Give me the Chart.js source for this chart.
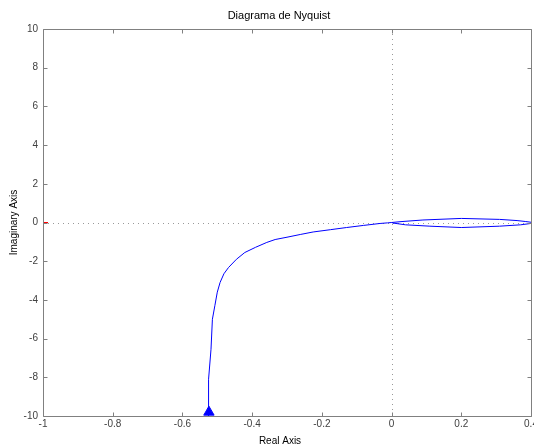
<!DOCTYPE html>
<html>
<head>
<meta charset="utf-8">
<script src="https://cdn.jsdelivr.net/npm/chart.js@4.4.1/dist/chart.umd.min.js"></script>
<style>
html, body { margin: 0; padding: 0; background: #fff; overflow: hidden; }
/* the reference figure is cropped on the right, so the canvas runs a bit past the window */
#wrap { width: 538px; height: 445px; position: relative; }
</style>
</head>
<body>
<div id="wrap"><canvas id="nyquist-chart"></canvas></div>
<script>
// Nyquist curve (real / imaginary parts)
var realPart = [-0.527, -0.526, -0.526, -0.524, -0.518, -0.514, -0.507, -0.500, -0.492, -0.481,
    -0.468, -0.445, -0.421, -0.390, -0.358, -0.334, -0.300, -0.262, -0.225, -0.175,
    -0.129, -0.080, -0.033, -0.012, 0.000,
    0.030, 0.090, 0.200, 0.310, 0.360, 0.385, 0.405,
    0.400, 0.370, 0.310, 0.200, 0.110, 0.040, 0.005, 0.000];
var imagPart = [-11.0, -10.0, -9.50, -8.10, -6.55, -5.00, -4.30, -3.60, -3.10, -2.65,
    -2.33, -1.90, -1.55, -1.28, -1.03, -0.88, -0.76, -0.62, -0.49, -0.37,
    -0.26, -0.15, -0.05, -0.02, 0.00,
    0.05, 0.13, 0.21, 0.16, 0.10, 0.05, 0.00,
    -0.05, -0.12, -0.19, -0.26, -0.19, -0.12, -0.03, 0.00];

var xTicks = [-1, -0.8, -0.6, -0.4, -0.2, 0, 0.2, 0.4];
var yTicks = [-10, -8, -6, -4, -2, 0, 2, 4, 6, 8, 10];

var arrowPoint = [{ x: -0.524, y: -9.8 }];
var criticalPoint = [{ x: -1, y: 0 }];

var chartTitle = 'Diagrama de Nyquist';
var xTitle = 'Real Axis';

var curve = [];
for (var i = 0; i < realPart.length; i++) {
    curve.push({ x: realPart[i], y: imagPart[i] });
}

var axisColor = '#808080';
var textColor = '#404040';

// MATLAB style box: dotted zero lines, frame, inward ticks, titles
var matlabBox = {
    id: 'matlabBox',
    beforeDatasetsDraw: function (chart) {
        var ctx = chart.ctx;
        var a = chart.chartArea;
        var x0 = Math.round(chart.scales.x.getPixelForValue(0)) + 0.5;
        var y0 = Math.round(chart.scales.y.getPixelForValue(0)) + 0.5;
        ctx.save();
        ctx.strokeStyle = '#999';
        ctx.lineWidth = 1;
        ctx.setLineDash([1, 4]);
        ctx.beginPath();
        ctx.moveTo(x0, a.top);
        ctx.lineTo(x0, a.bottom);
        ctx.moveTo(a.left, y0);
        ctx.lineTo(a.right, y0);
        ctx.stroke();
        ctx.restore();
    },
    afterDraw: function (chart) {
        var ctx = chart.ctx;
        var a = chart.chartArea;
        var xs = chart.scales.x, ys = chart.scales.y;
        var len = 4;
        ctx.save();
        ctx.strokeStyle = axisColor;
        ctx.lineWidth = 1;
        ctx.beginPath();
        var l = Math.round(a.left) + 0.5, r = Math.round(a.right) + 0.5;
        var t = Math.round(a.top) + 0.5, b = Math.round(a.bottom) + 0.5;
        ctx.rect(l, t, r - l, b - t);
        xTicks.forEach(function (v) {
            var px = Math.round(xs.getPixelForValue(v)) + 0.5;
            ctx.moveTo(px, b); ctx.lineTo(px, b - len);
            ctx.moveTo(px, t); ctx.lineTo(px, t + len);
        });
        yTicks.forEach(function (v) {
            var py = Math.round(ys.getPixelForValue(v)) + 0.5;
            ctx.moveTo(l, py); ctx.lineTo(l + len, py);
            ctx.moveTo(r, py); ctx.lineTo(r - len, py);
        });
        ctx.stroke();

        // titles (figure is cropped, so they sit left of the axes centre)
        ctx.fillStyle = '#000';
        ctx.textAlign = 'center';
        ctx.textBaseline = 'alphabetic';
        ctx.font = '11px "Liberation Sans"';
        ctx.fillText(chartTitle, 279, 19);
        ctx.font = '10px "Liberation Sans"';
        ctx.fillText(xTitle, 280, 444);
        ctx.restore();
    }
};

var context = document.getElementById('nyquist-chart').getContext('2d');
var nyquistChart = new Chart(context, {
    type: 'scatter',
    data: {
        datasets: [{
            data: curve,
            showLine: true,
            borderColor: '#0000ff',
            borderWidth: 1,
            pointRadius: 0,
            fill: false,
            tension: 0
        },
        {
            data: arrowPoint,
            pointStyle: 'triangle',
            pointRadius: 6,
            backgroundColor: '#0000ff',
            borderColor: '#0000ff',
            borderWidth: 1,
            clip: false
        },
        {
            data: criticalPoint,
            pointStyle: 'cross',
            pointRadius: 5,
            borderColor: '#ff0000',
            borderWidth: 1
        }]
    },
    options: {
        responsive: true,
        maintainAspectRatio: false,
        animation: false,
        layout: { padding: { left: 0, right: 0, top: 29, bottom: 0 } },
        plugins: {
            legend: { display: false },
            tooltip: { enabled: false },
            title: { display: false }
        },
        scales: {
            x: {
                type: 'linear',
                min: -1,
                max: 0.4,
                afterBuildTicks: function (scale) {
                    scale.ticks = xTicks.map(function (v) { return { value: v }; });
                },
                afterFit: function (scale) {
                    scale.height = 29;
                    scale.paddingLeft = 0;
                    scale.paddingRight = 0;
                },
                grid: { display: false, drawTicks: false },
                border: { display: false },
                ticks: {
                    color: textColor,
                    padding: 2,
                    maxRotation: 0,
                    autoSkip: false,
                    font: { family: 'Liberation Sans', size: 10 },
                    callback: function (v) { return String(Number(v.toFixed(1))); }
                },
                title: { display: false }
            },
            y: {
                type: 'linear',
                min: -10,
                max: 10,
                afterBuildTicks: function (scale) {
                    scale.ticks = yTicks.map(function (v) { return { value: v }; });
                },
                afterFit: function (scale) {
                    scale.width = 43;
                    scale.paddingTop = 0;
                    scale.paddingBottom = 0;
                },
                grid: { display: false, drawTicks: false },
                border: { display: false },
                ticks: {
                    color: textColor,
                    padding: 5,
                    autoSkip: false,
                    font: { family: 'Liberation Sans', size: 10 }
                },
                title: {
                    display: true,
                    text: 'Imaginary Axis',
                    color: '#000',
                    font: { family: 'Liberation Sans', size: 10 },
                    padding: { top: 8, bottom: 0 }
                }
            }
        }
    },
    plugins: [matlabBox]
});
</script>
</body>
</html>
